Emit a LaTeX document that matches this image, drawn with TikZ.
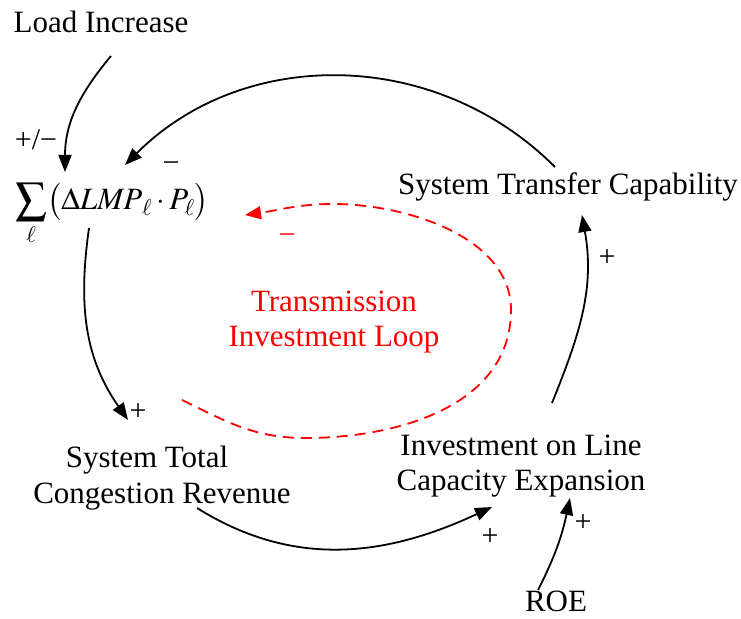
\documentclass[tikz,border=0pt]{standalone}
\usepackage{mathptmx}
\usepackage[no-math]{fontspec}
\setmainfont{Liberation Serif}
\usetikzlibrary{arrows.meta}
\begin{document}
\begin{tikzpicture}[x=1pt,y=1pt,
  txt/.style={inner sep=0pt, align=center, font=\fontsize{31}{35}\selectfont},
  lbl/.style={inner sep=0pt, font=\fontsize{30}{32}\selectfont},
  link/.style={line width=1.8pt, -{Triangle[length=17pt,width=13pt]}},
  loopdash/.style={red, line width=1.8pt, dash pattern=on 11pt off 7pt,
    -{Triangle[length=16pt,width=13pt]}}]
\useasboundingbox (0,0) rectangle (741,618);

% variables of the causal loop
\node[txt, anchor=base] (load) at (101,585) {Load Increase};
\node[txt, anchor=base] (sum) at (112,408)
  {$\displaystyle\sum_{\ell}\bigl(\Delta \mathit{LMP}_{\ell}\cdot P_{\ell}\bigr)$};
\node[txt, anchor=base] (stc) at (568,423) {System Transfer Capability};
\node[txt, anchor=north, red, font=\fontsize{31}{35}\selectfont] (loop) at (334,327)
  {Transmission\\Investment Loop};
\node[txt, anchor=north, font=\fontsize{31}{36}\selectfont] (sct) at (162,172.5)
  {System Total\rule{30pt}{0pt}\\Congestion Revenue};
\node[txt, anchor=north] (inv) at (521,183.5) {Investment on Line\\Capacity Expansion};
\node[txt, anchor=base] (roe) at (556,6) {ROE};

% causal links
\draw[link] ([shift={(10,-23)}]load.base) to[out=230,in=90] ([shift={(-47,38)}]sum.base);
\draw[link] ([shift={(-13,28)}]stc.base) to[out=135,in=45] ([shift={(13,45)}]sum.base);
\draw[link] ([shift={(-23,-18)}]sum.base) to[out=262,in=125] ([shift={(-34,25.5)}]sct.north);
\draw[link] ([shift={(35,-62.5)}]sct.north) to[out=-32,in=205] ([shift={(-29,-72.5)}]inv.north);
\draw[link] ([shift={(31,31.5)}]inv.north) to[out=68,in=-80] ([shift={(14,-20)}]stc.base);
\draw[link] ([shift={(-18,22)}]roe.base) to[out=63,in=-102] ([shift={(49,-63.5)}]inv.north);

% balancing loop marker
\draw[loopdash] ([shift={(20,45.5)}]sct.north)
  to[out=-26,in=180] ([shift={(-29,-147)}]loop.north)
  to[out=0,in=-90] ([shift={(177,-19)}]loop.north)
  to[out=90,in=0,looseness=0.9] ([shift={(-1,87)}]loop.north)
  to[out=180,in=8] ([shift={(133,-5)}]sum.base);

% link polarities
\node[lbl] (p1) at (36,478) {+/−};
\node[lbl] (p2) at (171,451) {−};
\node[lbl, red] (p3) at (287,379) {−};
\node[lbl] (p4) at (138,206) {+};
\node[lbl] (p5) at (490,81) {+};
\node[lbl] (p6) at (607,360) {+};
\node[lbl] (p7) at (583,95) {+};
\end{tikzpicture}
\end{document}
